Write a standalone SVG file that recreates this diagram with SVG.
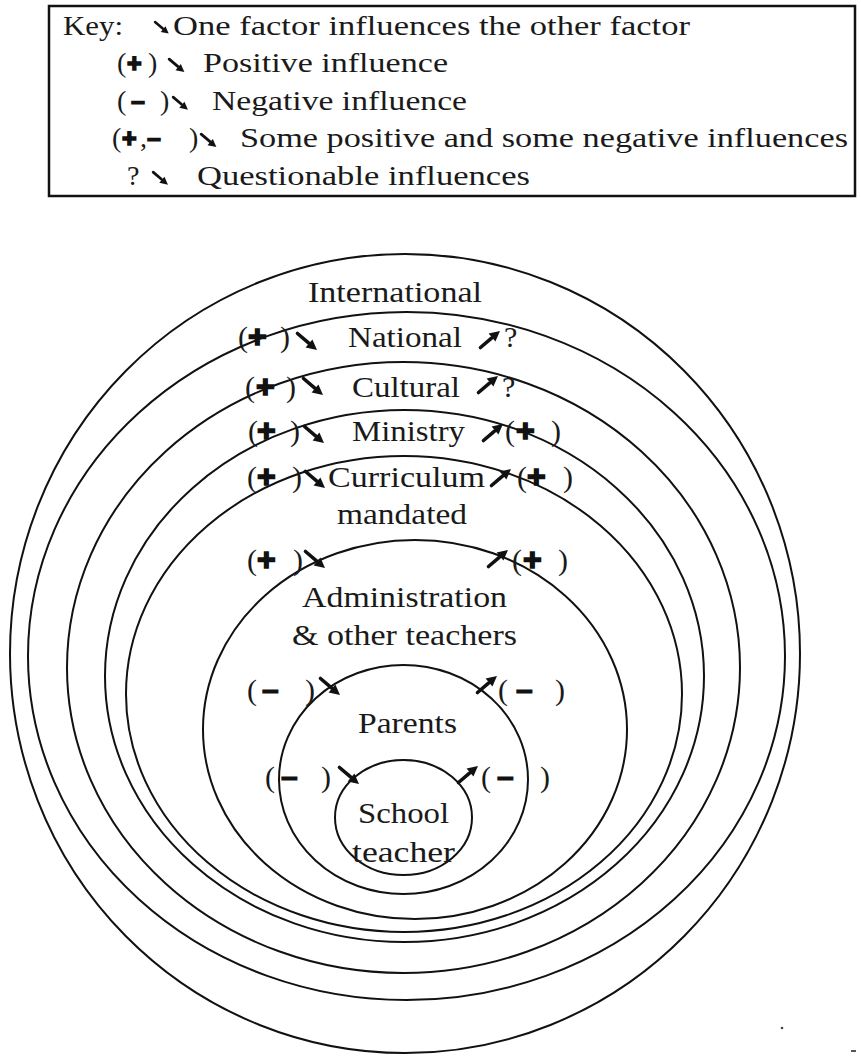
<svg xmlns="http://www.w3.org/2000/svg" xmlns:xlink="http://www.w3.org/1999/xlink" width="861" height="1056" viewBox="0 0 861 1056">
  <style>
    .ring { fill: none; stroke: #111; stroke-width: 2; }
    .box { fill: #fff; stroke: #111; stroke-width: 2.5; }
    .key { font-family: "Liberation Serif", "Times New Roman", serif; font-size: 28px; fill: #1a1a1a; }
    .lbl { font-family: "Liberation Serif", "Times New Roman", serif; font-size: 30px; fill: #1a1a1a; }
    .pl { font-family: "Liberation Sans", Arial, sans-serif; font-weight: bold; fill: #111; stroke: #111; stroke-width: 1.6; }
    .mi { font-family: "Liberation Sans", Arial, sans-serif; font-weight: bold; fill: #111; stroke: #111; stroke-width: 1.2; }
    .arr { fill: #111; }
  </style>
  <defs>
    <!-- bold arrow pointing down-right, 20 x 17 box -->
    <g id="se" class="arr">
      <path d="M1.5,1.5 L12.5,10.8" stroke="#111" stroke-width="3.6" stroke-linecap="round"/>
      <polygon points="21,18 9.6,15.6 16.4,7.6"/>
    </g>
    <!-- bold arrow pointing up-right, 20 x 17 box -->
    <g id="ne" class="arr">
      <path d="M1.5,15.5 L12.5,6.2" stroke="#111" stroke-width="3.6" stroke-linecap="round"/>
      <polygon points="21,-1 9.6,1.4 16.4,9.4"/>
    </g>
  </defs>

  <!-- legend -->
  <g id="key">
    <rect class="box" x="49" y="6" width="806" height="190"/>
    <text class="key" x="63" y="35" textLength="60" lengthAdjust="spacingAndGlyphs">Key:</text>
    <use xlink:href="#se" transform="translate(154,21) scale(0.7)"/>
    <text class="key" x="173" y="35" textLength="517" lengthAdjust="spacingAndGlyphs">One factor influences the other factor</text>

    <text class="key" y="72"><tspan x="117">(</tspan><tspan class="pl" x="127" font-size="25">+</tspan><tspan x="148">)</tspan></text>
    <use xlink:href="#se" transform="translate(168,58) scale(0.78)"/>
    <text class="key" x="203" y="72" textLength="245" lengthAdjust="spacingAndGlyphs">Positive influence</text>

    <text class="key" y="110"><tspan x="117">(</tspan><tspan class="mi" x="131" font-size="25">–</tspan><tspan x="160">)</tspan></text>
    <use xlink:href="#se" transform="translate(172,96) scale(0.76)"/>
    <text class="key" x="212" y="110" textLength="255" lengthAdjust="spacingAndGlyphs">Negative influence</text>

    <text class="key" y="147"><tspan x="112">(</tspan><tspan class="pl" x="122" font-size="25">+</tspan><tspan x="140">,</tspan><tspan class="mi" x="147" font-size="25">–</tspan><tspan x="189">)</tspan></text>
    <use xlink:href="#se" transform="translate(200,133) scale(0.78)"/>
    <text class="key" x="240" y="147" textLength="608" lengthAdjust="spacingAndGlyphs">Some positive and some negative influences</text>

    <text class="key" x="127" y="185">?</text>
    <use xlink:href="#se" transform="translate(152,171) scale(0.76)"/>
    <text class="key" x="197" y="185" textLength="333" lengthAdjust="spacingAndGlyphs">Questionable influences</text>
  </g>

  <!-- nested spheres of influence, outermost first -->
  <g id="international">
    <ellipse class="ring" cx="405" cy="653.5" rx="395" ry="399.5"/>
    <text class="lbl" x="308" y="302" textLength="174" lengthAdjust="spacingAndGlyphs">International</text>
  </g>
  <g id="national">
    <ellipse class="ring" cx="406.5" cy="656" rx="378.5" ry="344"/>
    <text class="lbl" x="348" y="347" textLength="114" lengthAdjust="spacingAndGlyphs">National</text>
  </g>
  <g id="cultural">
    <ellipse class="ring" cx="403.5" cy="667.5" rx="336.5" ry="305.5"/>
    <text class="lbl" x="352" y="397" textLength="108" lengthAdjust="spacingAndGlyphs">Cultural</text>
  </g>
  <g id="ministry">
    <ellipse class="ring" cx="404.5" cy="676" rx="299.5" ry="266"/>
    <text class="lbl" x="352" y="441" textLength="113" lengthAdjust="spacingAndGlyphs">Ministry</text>
  </g>
  <g id="curriculum">
    <ellipse class="ring" cx="404" cy="694" rx="278" ry="238"/>
    <text class="lbl" x="328" y="487" textLength="157" lengthAdjust="spacingAndGlyphs">Curriculum</text>
    <text class="lbl" x="337" y="524" textLength="130" lengthAdjust="spacingAndGlyphs">mandated</text>
  </g>
  <g id="administration">
    <ellipse class="ring" cx="415" cy="729.5" rx="212" ry="189.5"/>
    <text class="lbl" x="302" y="607" textLength="205" lengthAdjust="spacingAndGlyphs">Administration</text>
    <text class="lbl" x="292" y="645" textLength="225" lengthAdjust="spacingAndGlyphs">&amp; other teachers</text>
  </g>
  <g id="parents">
    <ellipse class="ring" cx="403.5" cy="779.5" rx="124.5" ry="114.5"/>
    <text class="lbl" x="358" y="733" textLength="99" lengthAdjust="spacingAndGlyphs">Parents</text>
  </g>
  <g id="school-teacher">
    <ellipse class="ring" cx="403.5" cy="817.5" rx="68.5" ry="57.5"/>
    <text class="lbl" x="358" y="823" textLength="91" lengthAdjust="spacingAndGlyphs">School</text>
    <text class="lbl" x="352" y="862" textLength="103" lengthAdjust="spacingAndGlyphs">teacher</text>
  </g>

  <!-- influence arrows and their signs between neighbouring rings -->
  <g id="connectors">
    <!-- international / national -->
    <text class="lbl" y="347"><tspan x="238">(</tspan><tspan class="pl" x="248" font-size="32">+</tspan><tspan x="280">)</tspan></text>
    <use xlink:href="#se" transform="translate(296,332)"/>
    <use xlink:href="#ne" transform="translate(479,332)"/>
    <text class="lbl" x="504" y="347">?</text>

    <!-- national / cultural -->
    <text class="lbl" y="397"><tspan x="245">(</tspan><tspan class="pl" x="256" font-size="32">+</tspan><tspan x="286">)</tspan></text>
    <use xlink:href="#se" transform="translate(302,377)"/>
    <use xlink:href="#ne" transform="translate(477,377)"/>
    <text class="lbl" x="502" y="397">?</text>

    <!-- cultural / ministry -->
    <text class="lbl" y="441"><tspan x="248">(</tspan><tspan class="pl" x="257" font-size="32">+</tspan><tspan x="290">)</tspan></text>
    <use xlink:href="#se" transform="translate(303,425)"/>
    <use xlink:href="#ne" transform="translate(482,425)"/>
    <text class="lbl" y="441"><tspan x="505">(</tspan><tspan class="pl" x="516" font-size="32">+</tspan><tspan x="551">)</tspan></text>

    <!-- ministry / curriculum -->
    <text class="lbl" y="487"><tspan x="247">(</tspan><tspan class="pl" x="257" font-size="32">+</tspan><tspan x="292">)</tspan></text>
    <use xlink:href="#se" transform="translate(304,470)"/>
    <use xlink:href="#ne" transform="translate(490,470)"/>
    <text class="lbl" y="487"><tspan x="517">(</tspan><tspan class="pl" x="527" font-size="32">+</tspan><tspan x="563">)</tspan></text>

    <!-- curriculum / administration -->
    <text class="lbl" y="570"><tspan x="247">(</tspan><tspan class="pl" x="257" font-size="32">+</tspan><tspan x="293">)</tspan></text>
    <use xlink:href="#se" transform="translate(304,550)"/>
    <use xlink:href="#ne" transform="translate(487,551)"/>
    <text class="lbl" y="570"><tspan x="512">(</tspan><tspan class="pl" x="523" font-size="32">+</tspan><tspan x="558">)</tspan></text>

    <!-- administration / parents -->
    <text class="lbl" y="700"><tspan x="247">(</tspan><tspan class="mi" x="262" font-size="30">–</tspan><tspan x="305">)</tspan></text>
    <use xlink:href="#se" transform="translate(319,677)"/>
    <use xlink:href="#ne" transform="translate(476,677)"/>
    <text class="lbl" y="700"><tspan x="498">(</tspan><tspan class="mi" x="516" font-size="30">–</tspan><tspan x="555">)</tspan></text>

    <!-- parents / school teacher -->
    <text class="lbl" y="787"><tspan x="265">(</tspan><tspan class="mi" x="281" font-size="30">–</tspan><tspan x="321">)</tspan></text>
    <use xlink:href="#se" transform="translate(338,766)"/>
    <use xlink:href="#ne" transform="translate(457,767)"/>
    <text class="lbl" y="787"><tspan x="481">(</tspan><tspan class="mi" x="497" font-size="30">–</tspan><tspan x="540">)</tspan></text>
  </g>

  <!-- stray specks near the lower right -->
  <circle cx="782" cy="1028" r="1.3" fill="#444"/>
  <rect x="851" y="1050" width="5" height="2" fill="#555"/>
</svg>
